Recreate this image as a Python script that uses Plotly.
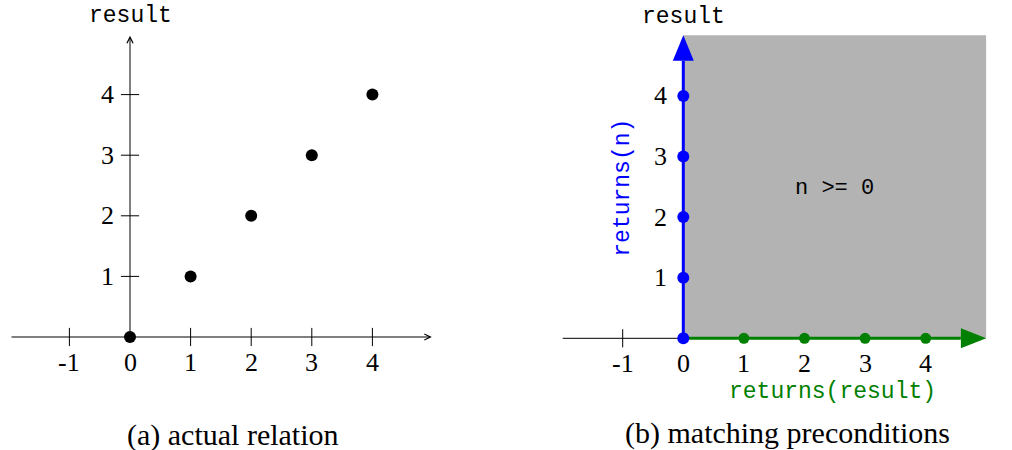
import plotly.graph_objects as go

# ---- data ----
n_vals = [0, 1, 2, 3, 4]
result_vals = [0, 1, 2, 3, 4]
x_ticks = [-1, 0, 1, 2, 3, 4]
y_ticks = [1, 2, 3, 4]
returns_n_result = [0, 1, 2, 3, 4]      # points on n = 0 (blue)
returns_result_n = [1, 2, 3, 4]         # points on result = 0 (green)
captions = ["(a) actual relation", "(b) matching preconditions"]

X_LO, X_HI = -1.98, 4.98
HEAD_LEN, HEAD_HALF = 0.42, 0.165
U = 60.6          # pixels per unit
W, H = 1012, 450

MONO = "Liberation Mono"
SERIF = "Liberation Serif"
BLUE = "#0000ff"
GREEN = "#008000"
GRAY = "#b3b3b3"

fig = go.Figure()

# ---------------- left panel ----------------
fig.add_trace(go.Scatter(x=[t for t in x_ticks if t != 0], y=[0] * (len(x_ticks) - 1),
                         mode="markers", xaxis="x", yaxis="y", hoverinfo="skip",
                         marker=dict(symbol="line-ns", size=13, line=dict(width=1, color="black"))))
fig.add_trace(go.Scatter(x=[0] * len(y_ticks), y=y_ticks,
                         mode="markers", xaxis="x", yaxis="y", hoverinfo="skip",
                         marker=dict(symbol="line-ew", size=13, line=dict(width=1, color="black"))))
fig.add_trace(go.Scatter(x=n_vals, y=result_vals, mode="markers", xaxis="x", yaxis="y",
                         marker=dict(size=12, color="black")))

# ---------------- right panel ----------------
fig.add_trace(go.Scatter(x=[X_LO - 0.01, 0], y=[0, 0], mode="lines", xaxis="x2", yaxis="y2",
                         line=dict(color="black", width=1), hoverinfo="skip"))
fig.add_trace(go.Scatter(x=[-1], y=[0], mode="markers", xaxis="x2", yaxis="y2", hoverinfo="skip",
                         marker=dict(symbol="line-ns", size=13, line=dict(width=1, color="black"))))
fig.add_trace(go.Scatter(x=[0, 5 - HEAD_LEN], y=[0, 0], mode="lines", xaxis="x2", yaxis="y2",
                         line=dict(color=GREEN, width=3), hoverinfo="skip"))
fig.add_trace(go.Scatter(x=[5 - HEAD_LEN, 5, 5 - HEAD_LEN, 5 - HEAD_LEN],
                         y=[-HEAD_HALF, 0, HEAD_HALF, -HEAD_HALF], mode="lines", fill="toself",
                         fillcolor=GREEN, line=dict(color=GREEN, width=0), xaxis="x2", yaxis="y2",
                         hoverinfo="skip"))
fig.add_trace(go.Scatter(x=[0, 0], y=[0, 5 - HEAD_LEN], mode="lines", xaxis="x2", yaxis="y2",
                         line=dict(color=BLUE, width=3), hoverinfo="skip"))
fig.add_trace(go.Scatter(x=[-HEAD_HALF * 1.05, 0, HEAD_HALF * 1.05, -HEAD_HALF * 1.05],
                         y=[5 - HEAD_LEN, 5, 5 - HEAD_LEN, 5 - HEAD_LEN], mode="lines", fill="toself",
                         fillcolor=BLUE, line=dict(color=BLUE, width=0), xaxis="x2", yaxis="y2",
                         hoverinfo="skip"))
fig.add_trace(go.Scatter(x=returns_result_n, y=[0] * len(returns_result_n), mode="markers",
                         xaxis="x2", yaxis="y2", marker=dict(size=11, color=GREEN)))
fig.add_trace(go.Scatter(x=[0] * len(returns_n_result), y=returns_n_result, mode="markers",
                         xaxis="x2", yaxis="y2", marker=dict(size=12, color=BLUE)))

shapes = [dict(type="rect", xref="x2", yref="y2", x0=0, x1=5, y0=0, y1=5,
               fillcolor=GRAY, line=dict(width=0), layer="below")]

ann = []
ann.append(dict(xref="x", yref="y", axref="x", ayref="y", x=X_HI, y=0, ax=X_LO, ay=0,
                text="", showarrow=True, arrowhead=5, arrowsize=1.2, arrowwidth=1, arrowcolor="black"))
ann.append(dict(xref="x", yref="y", axref="x", ayref="y", x=0, y=4.97, ax=0, ay=0,
                text="", showarrow=True, arrowhead=5, arrowsize=1.2, arrowwidth=1, arrowcolor="black"))

for xr, yr in (("x", "y"), ("x2", "y2")):
    for t in x_ticks:
        ann.append(dict(xref=xr, yref=yr, x=t, y=0, yshift=-25, text=str(t), showarrow=False,
                        borderpad=0, font=dict(family=SERIF, size=26, color="black")))
    for t in y_ticks:
        ann.append(dict(xref=xr, yref=yr, x=0, y=t, xshift=-14, xanchor="right", text=str(t),
                        showarrow=False, font=dict(family=SERIF, size=26, color="black")))
    ann.append(dict(xref=xr, yref=yr, x=0, y=5.3, text="result", showarrow=False,
                    font=dict(family=MONO, size=23, color="black")))
    ann.append(dict(xref=xr, yref=yr, x=5.28, y=0, text="n", showarrow=False,
                    font=dict(family=MONO, size=23, color="black")))

ann.append(dict(xref="x2", yref="y2", x=2.5, y=2.48, text="n >= 0", showarrow=False,
                font=dict(family=MONO, size=22, color="black")))
ann.append(dict(xref="x2", yref="y2", x=-1.0, y=2.48, text="returns(n)", textangle=-90,
                showarrow=False, font=dict(family=MONO, size=23, color=BLUE)))
ann.append(dict(xref="x2", yref="y2", x=2.47, y=0, yshift=-54, text="returns(result)",
                borderpad=0, showarrow=False, font=dict(family=MONO, size=23, color=GREEN)))

ann.append(dict(xref="paper", yref="paper", x=233 / W, y=1 - 435 / H, xanchor="center",
                yanchor="middle", text=captions[0], showarrow=False,
                font=dict(family=SERIF, size=30, color="black")))
ann.append(dict(xref="paper", yref="paper", x=787 / W, y=1 - 433 / H, xanchor="center",
                yanchor="middle", text=captions[1], showarrow=False,
                font=dict(family=SERIF, size=30, color="black")))

ax_common = dict(visible=False, showgrid=False, zeroline=False, fixedrange=True)
OX1, OY1 = 130.0, 337.0
OX2, OY2 = 683.3, 338.3
fig.update_layout(
    width=W, height=H,
    margin=dict(l=0, r=0, t=0, b=0),
    paper_bgcolor="white", plot_bgcolor="white",
    showlegend=False,
    xaxis=dict(domain=[(OX1 - 2 * U) / W, (OX1 + 5 * U) / W], range=[-2, 5], **ax_common),
    yaxis=dict(domain=[0, 1], range=[-(H - OY1) / U, OY1 / U], **ax_common),
    xaxis2=dict(domain=[(OX2 - 2 * U) / W, (OX2 + 5 * U) / W], range=[-2, 5], **ax_common),
    yaxis2=dict(domain=[0, 1], range=[-(H - OY2) / U, OY2 / U], anchor="x2", **ax_common),
    shapes=shapes,
    annotations=ann,
)

fig.write_html("out.html", config={"displayModeBar": False},
               post_script="document.body.style.margin='0';document.body.style.overflow='hidden';")
